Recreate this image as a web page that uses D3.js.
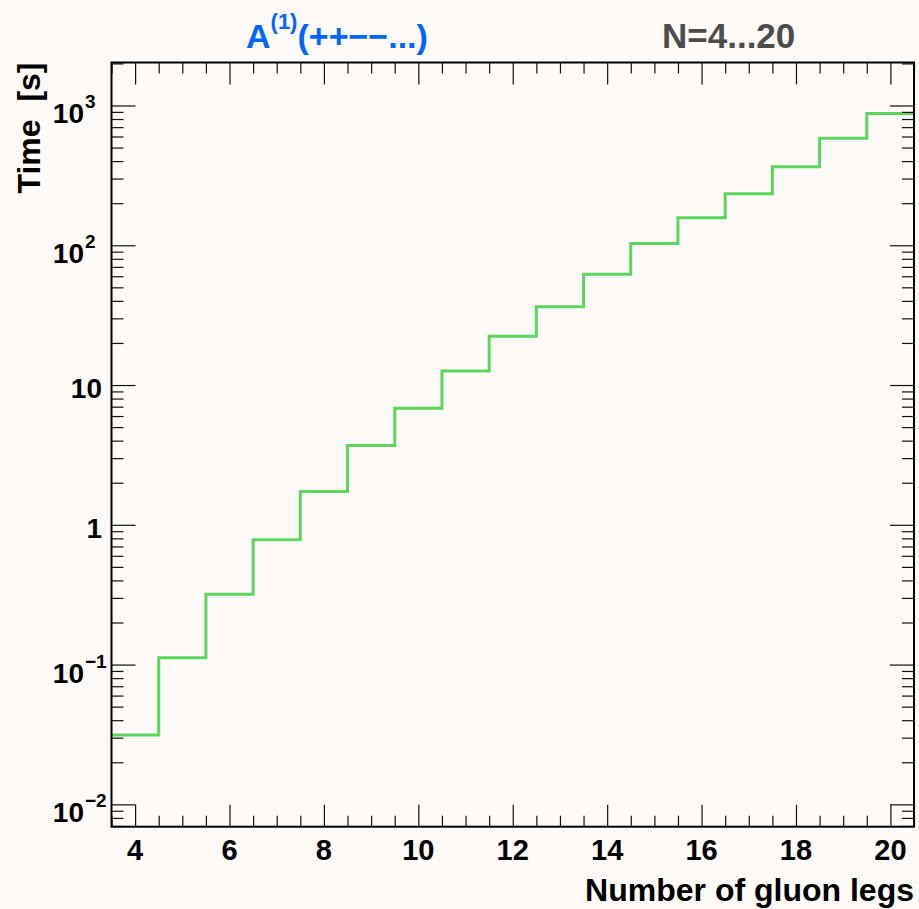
<!DOCTYPE html>
<html>
<head>
<meta charset="utf-8">
<script src="https://cdn.jsdelivr.net/npm/d3@7"></script>
<style>
  body { margin: 0; background: #fdfaf7; }
  svg { display: block; font-family: "Liberation Sans", Arial, sans-serif; font-weight: bold; }
</style>
</head>
<body>
<svg id="chart" width="919" height="909"></svg>
<script>
// timing per number of gluon legs (histogram bins, width 1)
const legs = [4, 5, 6, 7, 8, 9, 10, 11, 12, 13, 14, 15, 16, 17, 18, 19, 20];
const times = [0.0313, 0.112, 0.318, 0.781, 1.73, 3.69, 6.81, 12.6, 22.3, 36.3, 62.1, 103, 157, 234, 365, 584, 877];

const xTickValues = [4, 6, 8, 10, 12, 14, 16, 18, 20];
const yTickValues = [0.01, 0.1, 1, 10, 100, 1000];
const yTickBase = ['10', '10', '1', '10', '10', '10'];
const yTickExp = ['\u22122', '\u22121', '', '', '2', '3'];

const titleLeft = ['A', '(1)', '(++\u2212\u2212...)'];
const titleRight = 'N=4...20';
const xTitle = 'Number of gluon legs';
const yTitle = 'Time  [s]';

const plotL = 111.5, plotR = 914, plotT = 62.5, plotB = 826.7;

const svg = d3.select('#chart');

const x = d3.scaleLinear().domain([3.5, 20.5]).range([plotL, plotR]);
const y = d3.scaleLog().domain([0.00692, 2030]).range([plotB, plotT]);

svg.append('rect').attr('width', 919).attr('height', 909).attr('fill', '#fdfaf7');

svg.append('clipPath').attr('id', 'plot')
  .append('rect').attr('x', plotL).attr('y', plotT).attr('width', plotR - plotL).attr('height', plotB - plotT);

// step line
const pts = legs.map((n, i) => [n - 0.5, times[i]]);
pts.push([legs[legs.length - 1] + 0.5, times[times.length - 1]]);
const line = d3.line()
  .x((d) => x(d[0]))
  .y((d) => y(d[1]))
  .curve(d3.curveStepAfter);

svg.append('path').datum(pts)
  .attr('clip-path', 'url(#plot)')
  .attr('d', line)
  .attr('fill', 'none')
  .attr('stroke', '#5cd65c')
  .attr('stroke-width', 3);

// ticks
const xMinor = d3.range(3.5, 20.51, 0.5).filter((v) => !xTickValues.includes(v));
const yMinor = y.ticks().filter((v) => !yTickValues.some((t) => Math.abs(t - v) / t < 1e-6));

function tickAxis(g, axis) {
  g.call(axis);
  g.select('.domain').remove();
  g.selectAll('line').attr('stroke', '#111').attr('stroke-width', 1.2);
  g.selectAll('text').remove();
}

svg.append('g').attr('transform', `translate(0,${plotB})`)
  .call((g) => tickAxis(g, d3.axisBottom(x).tickValues(xTickValues).tickSize(-22)));
svg.append('g').attr('transform', `translate(0,${plotB})`)
  .call((g) => tickAxis(g, d3.axisBottom(x).tickValues(xMinor).tickSize(-11)));
svg.append('g').attr('transform', `translate(0,${plotT})`)
  .call((g) => tickAxis(g, d3.axisTop(x).tickValues(xTickValues).tickSize(-22)));
svg.append('g').attr('transform', `translate(0,${plotT})`)
  .call((g) => tickAxis(g, d3.axisTop(x).tickValues(xMinor).tickSize(-11)));

svg.append('g').attr('transform', `translate(${plotL},0)`)
  .call((g) => tickAxis(g, d3.axisLeft(y).tickValues(yTickValues).tickSize(-24)));
svg.append('g').attr('transform', `translate(${plotL},0)`)
  .call((g) => tickAxis(g, d3.axisLeft(y).tickValues(yMinor).tickSize(-12)));
svg.append('g').attr('transform', `translate(${plotR},0)`)
  .call((g) => tickAxis(g, d3.axisRight(y).tickValues(yTickValues).tickSize(-24)));
svg.append('g').attr('transform', `translate(${plotR},0)`)
  .call((g) => tickAxis(g, d3.axisRight(y).tickValues(yMinor).tickSize(-12)));

// frame
svg.append('rect')
  .attr('x', plotL).attr('y', plotT)
  .attr('width', plotR - plotL).attr('height', plotB - plotT)
  .attr('fill', 'none').attr('stroke', '#000').attr('stroke-width', 2);

// x tick labels
svg.append('g').selectAll('text').data(xTickValues).join('text')
  .attr('x', (d) => x(d))
  .attr('y', 860)
  .attr('text-anchor', 'middle')
  .attr('font-size', 29)
  .attr('fill', '#000')
  .text((d) => d);

// y tick labels
const yl = svg.append('g');
yTickValues.forEach((v, i) => {
  const yy = y(v);
  if (yTickExp[i] === '') {
    yl.append('text')
      .attr('x', 102).attr('y', yy + 13)
      .attr('text-anchor', 'end')
      .attr('font-size', 28)
      .text(yTickBase[i]);
  } else {
    yl.append('text')
      .attr('x', 84).attr('y', yy + 18)
      .attr('text-anchor', 'end')
      .attr('font-size', 28)
      .text(yTickBase[i]);
    yl.append('text')
      .attr('x', 85).attr('y', yy + 3)
      .attr('font-size', 19)
      .text(yTickExp[i]);
  }
});

// axis titles
svg.append('text')
  .attr('x', plotR).attr('y', 901)
  .attr('text-anchor', 'end')
  .attr('font-size', 32)
  .text(xTitle);

svg.append('text')
  .attr('transform', `translate(40,${plotT}) rotate(-90)`)
  .attr('text-anchor', 'end')
  .attr('font-size', 32)
  .style('white-space', 'pre')
  .text(yTitle);

// titles
const tl = svg.append('text')
  .attr('x', 246).attr('y', 48)
  .attr('font-size', 34)
  .attr('fill', '#0066ff');
tl.append('tspan').text(titleLeft[0]);
tl.append('tspan').attr('font-size', 22).attr('dy', -19).text(titleLeft[1]);
tl.append('tspan').attr('dy', 19).text(titleLeft[2]);

svg.append('text')
  .attr('x', 662).attr('y', 48)
  .attr('font-size', 35)
  .attr('fill', '#4d4d4d')
  .text(titleRight);
</script>
</body>
</html>
